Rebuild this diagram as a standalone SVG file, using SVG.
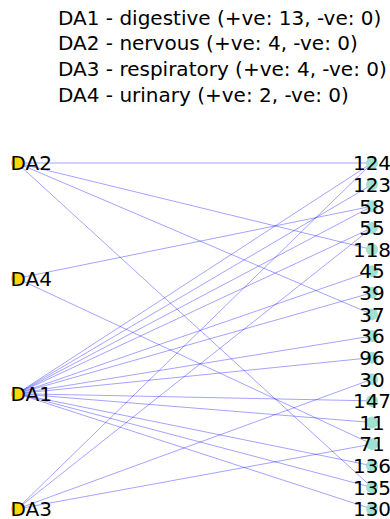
<svg xmlns="http://www.w3.org/2000/svg" width="390" height="519" viewBox="0 0 390 519">
<style>
text{font-family:"DejaVu Sans",sans-serif;font-size:20px;fill:#000}
.e{stroke:#0000ff;stroke-opacity:0.36;stroke-width:1;fill:none}
.l{fill:#ffd700}
.r{fill:#a0e2d2}
.rt{text-anchor:middle}
</style>
<rect width="390" height="519" fill="#fff"/>
<g id="title">
<text x="58" y="24.5">DA1 - digestive (+ve: 13, -ve: 0)</text>
<text x="58" y="50.2">DA2 - nervous (+ve: 4, -ve: 0)</text>
<text x="58" y="75.8">DA3 - respiratory (+ve: 4, -ve: 0)</text>
<text x="58" y="101.5">DA4 - urinary (+ve: 2, -ve: 0)</text>
</g>
<g id="connectors">
<line class="e" x1="17" y1="163" x2="372" y2="163"/>
<line class="e" x1="17" y1="163" x2="372" y2="249.5"/>
<line class="e" x1="17" y1="163" x2="372" y2="314.375"/>
<line class="e" x1="17" y1="163" x2="372" y2="487.375"/>
<line class="e" x1="17" y1="278.33" x2="372" y2="206.25"/>
<line class="e" x1="17" y1="278.33" x2="372" y2="444.125"/>
<line class="e" x1="17" y1="393.67" x2="372" y2="163"/>
<line class="e" x1="17" y1="393.67" x2="372" y2="184.625"/>
<line class="e" x1="17" y1="393.67" x2="372" y2="206.25"/>
<line class="e" x1="17" y1="393.67" x2="372" y2="227.875"/>
<line class="e" x1="17" y1="393.67" x2="372" y2="271.125"/>
<line class="e" x1="17" y1="393.67" x2="372" y2="292.75"/>
<line class="e" x1="17" y1="393.67" x2="372" y2="336"/>
<line class="e" x1="17" y1="393.67" x2="372" y2="357.625"/>
<line class="e" x1="17" y1="393.67" x2="372" y2="400.875"/>
<line class="e" x1="17" y1="393.67" x2="372" y2="422.5"/>
<line class="e" x1="17" y1="393.67" x2="372" y2="465.75"/>
<line class="e" x1="17" y1="393.67" x2="372" y2="487.375"/>
<line class="e" x1="17" y1="393.67" x2="372" y2="509"/>
<line class="e" x1="17" y1="509" x2="372" y2="163"/>
<line class="e" x1="17" y1="509" x2="372" y2="227.875"/>
<line class="e" x1="17" y1="509" x2="372" y2="379.25"/>
<line class="e" x1="17" y1="509" x2="372" y2="444.125"/>
</g>
<g id="DA2"><circle class="l" cx="17" cy="163" r="6"/><text x="10.5" y="170.3">DA2</text></g>
<g id="DA4"><circle class="l" cx="17" cy="278.33" r="6"/><text x="10.5" y="285.6">DA4</text></g>
<g id="DA1"><circle class="l" cx="17" cy="393.67" r="6"/><text x="10.5" y="401">DA1</text></g>
<g id="DA3"><circle class="l" cx="17" cy="509" r="6"/><text x="10.5" y="516.3">DA3</text></g>
<g id="n124"><circle class="r" cx="372" cy="163" r="6"/><text class="rt" x="372" y="170.3">124</text></g>
<g id="n123"><circle class="r" cx="372" cy="184.625" r="6"/><text class="rt" x="372" y="191.9">123</text></g>
<g id="n58"><circle class="r" cx="372" cy="206.25" r="6"/><text class="rt" x="372" y="213.55">58</text></g>
<g id="n55"><circle class="r" cx="372" cy="227.875" r="6"/><text class="rt" x="372" y="235.2">55</text></g>
<g id="n118"><circle class="r" cx="372" cy="249.5" r="6"/><text class="rt" x="372" y="256.8">118</text></g>
<g id="n45"><circle class="r" cx="372" cy="271.125" r="6"/><text class="rt" x="372" y="278.4">45</text></g>
<g id="n39"><circle class="r" cx="372" cy="292.75" r="6"/><text class="rt" x="372" y="300.05">39</text></g>
<g id="n37"><circle class="r" cx="372" cy="314.375" r="6"/><text class="rt" x="372" y="321.7">37</text></g>
<g id="n36"><circle class="r" cx="372" cy="336" r="6"/><text class="rt" x="372" y="343.3">36</text></g>
<g id="n96"><circle class="r" cx="372" cy="357.625" r="6"/><text class="rt" x="372" y="364.9">96</text></g>
<g id="n30"><circle class="r" cx="372" cy="379.25" r="6"/><text class="rt" x="372" y="386.55">30</text></g>
<g id="n147"><circle class="r" cx="372" cy="400.875" r="6"/><text class="rt" x="372" y="408.2">147</text></g>
<g id="n11"><circle class="r" cx="372" cy="422.5" r="6"/><text class="rt" x="372" y="429.8">11</text></g>
<g id="n71"><circle class="r" cx="372" cy="444.125" r="6"/><text class="rt" x="372" y="451.4">71</text></g>
<g id="n136"><circle class="r" cx="372" cy="465.75" r="6"/><text class="rt" x="372" y="473.05">136</text></g>
<g id="n135"><circle class="r" cx="372" cy="487.375" r="6"/><text class="rt" x="372" y="494.7">135</text></g>
<g id="n130"><circle class="r" cx="372" cy="509" r="6"/><text class="rt" x="372" y="516.3">130</text></g>
</svg>
